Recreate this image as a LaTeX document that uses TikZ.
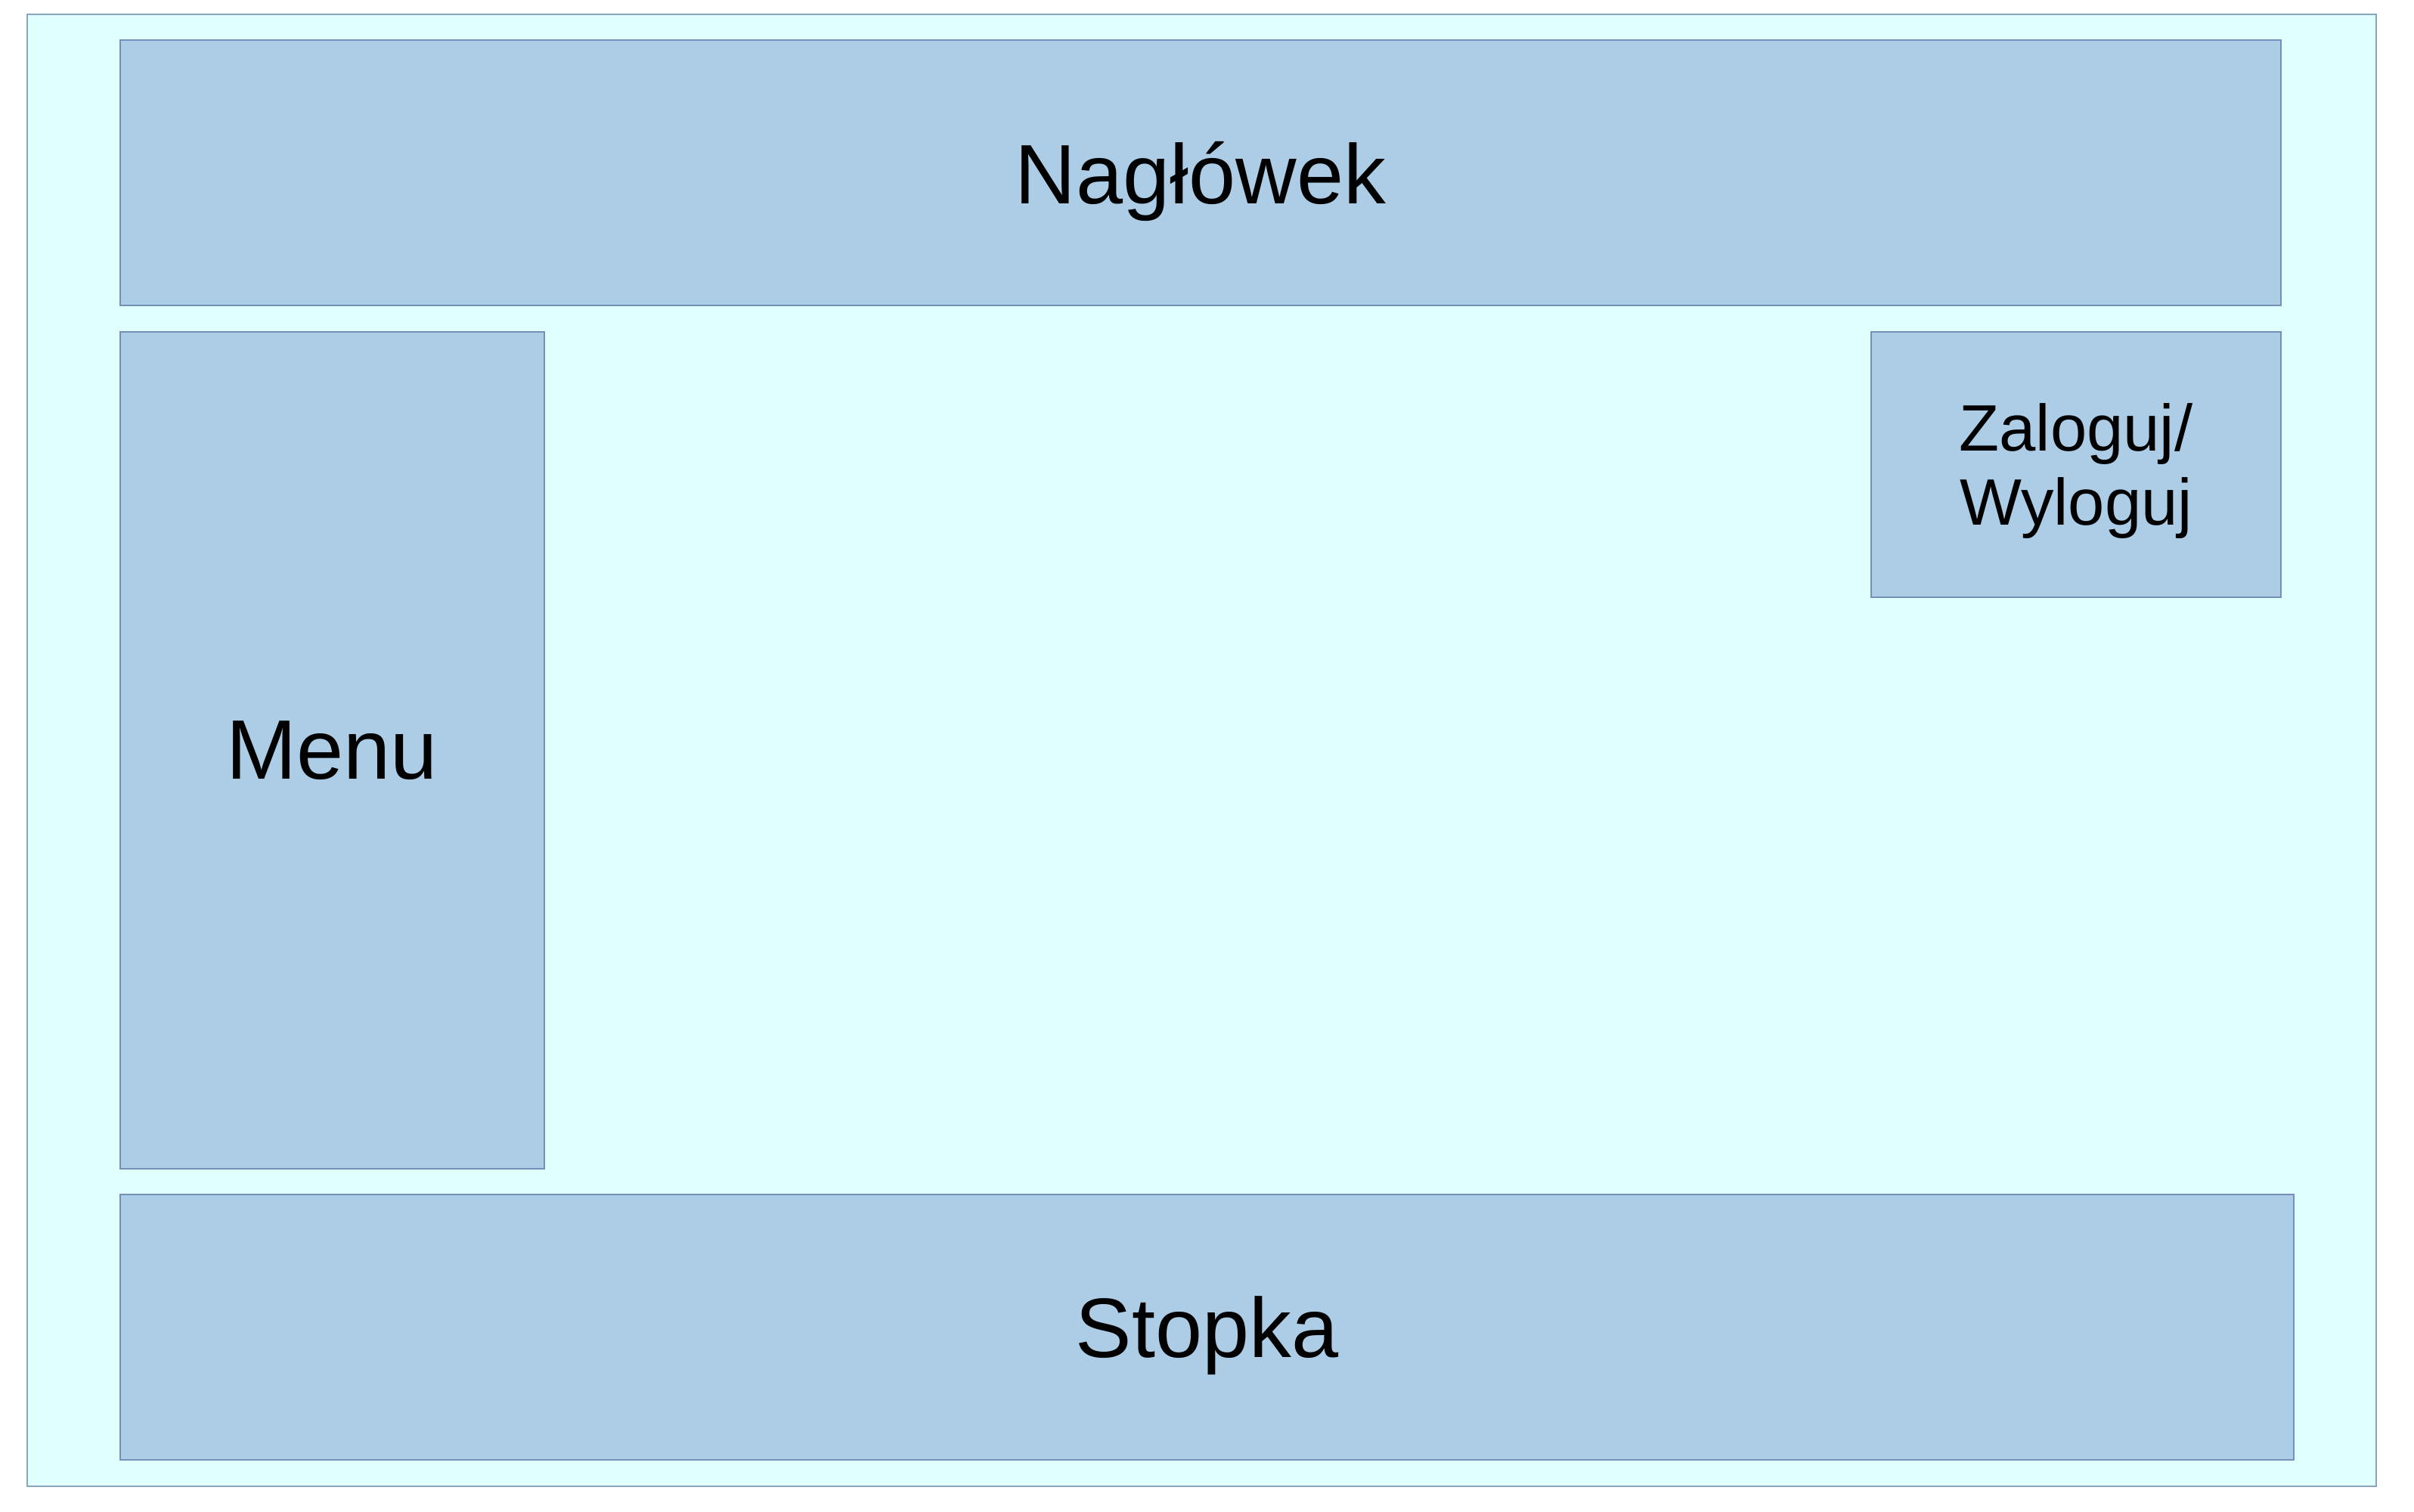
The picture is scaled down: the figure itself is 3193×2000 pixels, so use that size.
\documentclass[tikz,border=0pt]{standalone}
\usepackage{fontspec}
\setmainfont{Liberation Sans}
\definecolor{pagefill}{HTML}{E0FFFF}
\definecolor{pageline}{HTML}{86A4BE}
\definecolor{boxfill}{HTML}{ADCDE6}
\definecolor{boxline}{HTML}{7391B8}
\tikzset{
  region/.style={draw=boxline, fill=boxfill, line width=0.6pt, anchor=north west, inner sep=0pt, outer sep=0pt, align=center, text depth=0pt, font=\fontsize{27.9}{32}\selectfont},
  smallregion/.style={region, font=\fontsize{21.7}{24.5}\selectfont}
}
\begin{document}
\begin{tikzpicture}[x=0.25pt,y=0.25pt,yscale=-1,xscale=1]
\useasboundingbox (0,0) rectangle (3193,2000);

%Shape: Page Frame
\node[draw=pageline, fill=pagefill, line width=0.6pt, anchor=north west, inner sep=0pt, minimum width=776.75pt, minimum height=486.75pt] (page) at (35,18) {};

%Shape: Header
\node[region, minimum width=714.5pt, minimum height=87.75pt] (naglowek) at (159,53) {Nagłówek};
%Shape: Menu
\node[region, minimum width=140.25pt, minimum height=276.75pt] (menu) at (159,439) {Menu};
%Shape: Login
\node[smallregion, minimum width=135.5pt, minimum height=87.75pt] (zaloguj) at (2475,439) {Zaloguj/\\Wyloguj};
%Shape: Footer
\node[region, minimum width=718.75pt, minimum height=87.75pt] (stopka) at (159,1580) {Stopka};

\end{tikzpicture}
\end{document}
